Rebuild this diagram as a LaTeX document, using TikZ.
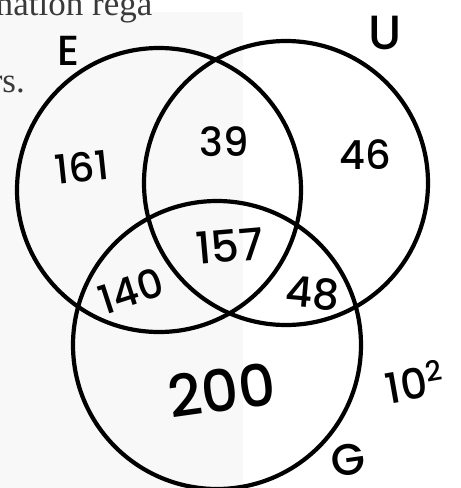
\documentclass[tikz,border=0pt]{standalone}
\usepackage{fontspec}
\setmainfont{Poppins}[BoldFont={Poppins Medium}]
\newfontfamily\scanfont{Liberation Serif}
\usetikzlibrary{positioning}
\definecolor{ScanGray}{HTML}{F8F8F8}
\definecolor{ScanInk}{HTML}{3A3A3A}

\begin{document}
\begin{tikzpicture}[x=1pt,y=-1pt,
  ring/.style={draw=black,line width=4.2pt,circle,inner sep=0pt},
  tally/.style={font=\bfseries\fontsize{40}{40}\selectfont,inner sep=0pt},
  setname/.style={font=\bfseries\fontsize{42}{42}\selectfont,inner sep=0pt},
  scantext/.style={font=\scanfont\fontsize{35}{35}\selectfont,text=ScanInk,inner sep=0pt}]
\useasboundingbox (0,0) rectangle (461,488);
\clip (0,0) rectangle (461,488);
% scanned page behind the sketch
\fill[ScanGray] (0,12) rectangle (243,488);
\node[scantext,anchor=base west] (pageTop) at (-14,15) {mation rega};
\node[scantext,anchor=base east] (pageLeft) at (25,92) {rs.};
% the three sets
\node[ring,minimum size=284pt] (setE) at (159,190) {};
\node[ring,minimum size=284pt] (setU) at (286,183) {};
\node[ring,minimum size=288pt] (setG) at (217,345) {};
% set names
\node[setname] (lblE) at (69,51) {E};
\node[setname,font=\bfseries\fontsize{48}{48}\selectfont] (lblU) at (385,33) {U};
\node[setname,font=\bfseries\fontsize{44}{44}\selectfont,rotate=8] (lblG) at (348,460) {G};
% counts
\node[tally,rotate=6] (cntE) at (82,167) {161};
\node[tally] (cntEU) at (224,142) {39};
\node[tally] (cntU) at (365,155) {46};
\node[tally,font=\bfseries\fontsize{44}{44}\selectfont,rotate=5] (cntEUG) at (230,246) {157};
\node[tally,rotate=18] (cntEG) at (131,291) {140};
\node[tally,font=\bfseries\fontsize{42}{42}\selectfont,rotate=-5] (cntUG) at (313,293) {48};
\node[tally,font=\bfseries\fontsize{58}{58}\selectfont,rotate=8] (cntG) at (222,390) {200};
\node[tally,font=\bfseries\fontsize{42}{42}\selectfont,rotate=10] (cntOut) at (414,382) {10\raisebox{0.35em}{\fontsize{28}{28}\selectfont 2}};
\end{tikzpicture}
\end{document}
